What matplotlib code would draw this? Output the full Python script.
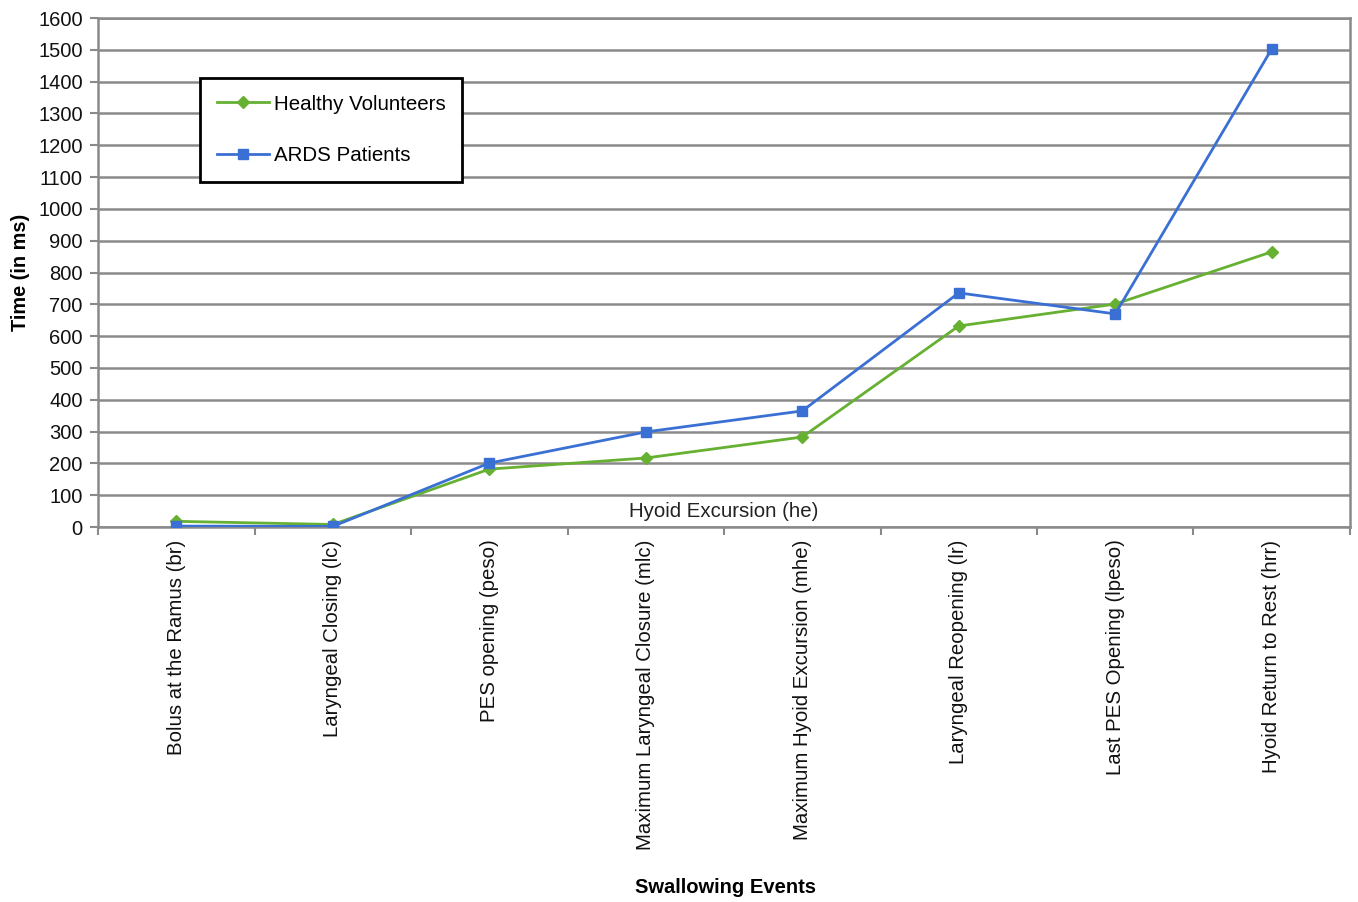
import matplotlib
matplotlib.use("Agg")
import matplotlib.pyplot as plt
from matplotlib.ticker import FixedLocator

plt.rcParams['font.family'] = ['Liberation Sans', 'DejaVu Sans']

categories = ["Bolus at the Ramus (br)", "Laryngeal Closing (lc)", "PES opening (peso)",
              "Maximum Laryngeal Closure (mlc)", "Maximum Hyoid Excursion (mhe)",
              "Laryngeal Reopening (lr)", "Last PES Opening (lpeso)", "Hyoid Return to Rest (hrr)"]
healthy = [18, 8, 182, 217, 283, 632, 701, 865]
ards = [3, 2, 201, 299, 365, 736, 670, 1503]
yticks = list(range(0, 1700, 100))

fig = plt.figure(figsize=(13.58, 9.02), dpi=100)
ax = fig.add_axes([0.0722, 0.4157, 0.9219, 0.5643])

x = list(range(len(categories)))
for yv in yticks:
    ax.axhline(yv, color='#8a8a8a', lw=1.8, zorder=1)

ax.plot(x, healthy, color='#66b032', lw=2, marker='D', ms=6, label='Healthy Volunteers', zorder=3)
ax.plot(x, ards, color='#3a70d4', lw=2, marker='s', ms=7.5, label='ARDS Patients', zorder=3)

ax.set_xlim(-0.5, 7.5)
ax.set_ylim(0, 1600)
ax.set_yticks(yticks)
ax.set_xticks(x)
ax.set_xticklabels(categories, rotation=90, fontsize=14.7, va='top', color='#111111')
ax.xaxis.set_minor_locator(FixedLocator([i - 0.5 for i in range(9)]))
ax.tick_params(axis='x', which='major', length=0, pad=9)
ax.tick_params(axis='x', which='minor', length=6, width=1.5, color='#8a8a8a', direction='out')
ax.tick_params(axis='y', length=6, width=1.5, color='#8a8a8a', labelsize=14.5, pad=5,
               labelcolor='#111111')

for s in ['left', 'bottom', 'right', 'top']:
    ax.spines[s].set_color('#8a8a8a')
    ax.spines[s].set_linewidth(1.8)

ax.text(3.5, 50, "Hyoid Excursion (he)", ha='center', va='center', fontsize=14.7, color='#222222', zorder=4)

ax.set_ylabel("Time (in ms)", fontsize=14.3, fontweight='bold', labelpad=6)
fig.text(0.534, 0.016, "Swallowing Events", ha='center', va='center', fontsize=14.5, fontweight='bold')

leg = ax.legend(loc='upper left', bbox_to_anchor=(0.0815, 0.882), fontsize=14.8, frameon=True,
                fancybox=False, edgecolor='black', framealpha=1, borderpad=0.8,
                labelspacing=1.6, handlelength=2.55, handletextpad=0.25, borderaxespad=0)
leg.get_frame().set_linewidth(2)

fig.savefig("out.png", dpi=100, facecolor='white')
